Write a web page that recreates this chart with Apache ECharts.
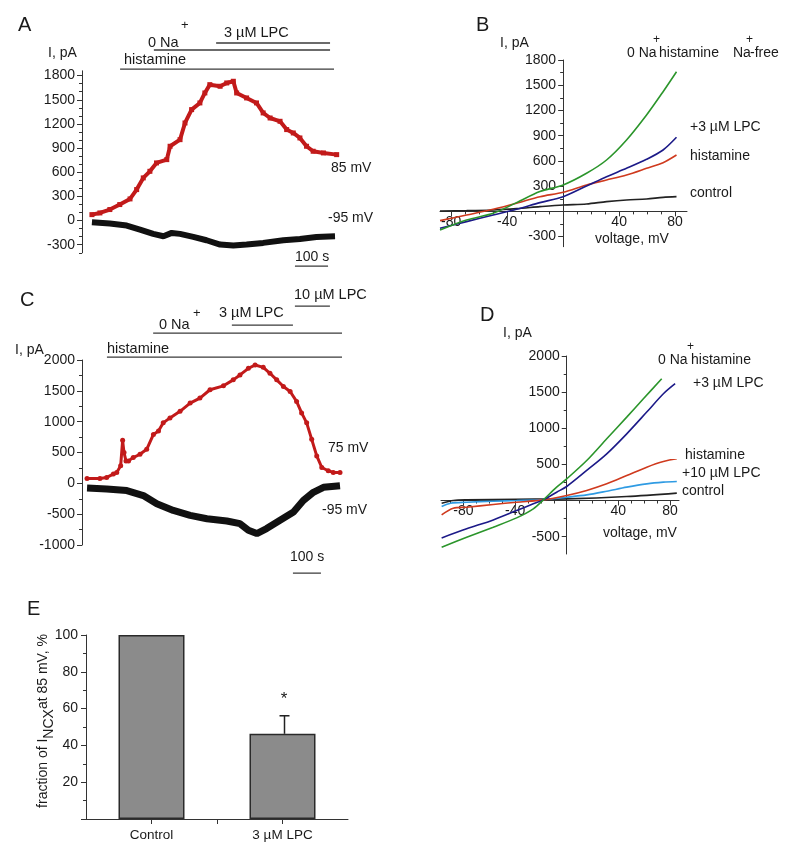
<!DOCTYPE html>
<html><head><meta charset="utf-8">
<script src="https://cdn.jsdelivr.net/npm/echarts@6/dist/echarts.min.js"></script>
<style>html,body{margin:0;padding:0;background:#fff}#c{width:800px;height:857px}</style>
</head><body><div id="c"></div><script>
// ---------- Panel A: time course (s, pA) ----------
const aTime85 = [0,24,54,84,115,135,155,175,195,226,236,266,281,301,326,341,356,387,407,427,437,467,497,517,538,568,588,608,628,648,668,699,739];
const aI85    = [74,95,137,199,269,385,530,612,716,757,923,1005,1212,1378,1461,1585,1688,1668,1709,1730,1585,1523,1461,1337,1274,1233,1130,1088,1026,923,861,840,819];
const aTimeN95 = [0,54,105,145,185,216,241,266,306,346,387,427,467,517,578,628,678,734];
const aIN95    = [-21,-37,-62,-112,-165,-194,-153,-165,-203,-244,-298,-310,-298,-277,-244,-228,-203,-194];
const aHistamine = [85, 731];
const aNaFree    = [187, 719];
const aLPC3      = [375, 719];
const aScaleBar  = [613, 713];
const aTickLabels = [-300,0,300,600,900,1200,1500,1800];

// ---------- Panel B: I-V curves (mV, pA) ----------
const bV         = [-88,-69,-50,-33.3,-16.6,0,16.7,31,45.3,59.6,71.4,81];
const bNaFree    = [-221,-102,-23,104,235,314,453,611,849,1146,1423,1661];
const bLPC3      = [-201,-122,-43,25,104,175,302,413,512,619,730,881];
const bHistamine = [-110,-43,25,96,175,227,314,373,433,512,579,670];
const bControl   = [5,9,17,33,56,76,88,116,136,147,167,175];
const bYTickLabels = [-300,300,600,900,1200,1500,1800];
const bXTickLabels = [-80,-40,40,80];

// ---------- Panel C: time course (s, pA) ----------
const cTime75 = [0,46,70,94,106,120,127,132,139,148,165,189,213,237,255,272,296,332,368,403,439,487,522,546,576,600,629,653,677,701,725,748,766,784,802,820,838,861,879,903];
const cI75    = [80,80,96,150,177,284,697,498,364,364,418,472,552,793,847,981,1061,1168,1302,1383,1517,1581,1678,1758,1865,1919,1881,1785,1678,1570,1490,1329,1142,981,713,445,257,204,177,177];
const cTimeN95 = [0,70,142,201,249,308,368,428,499,546,576,606,641,689,737,772,808,844,903];
const cIN95    = [-75,-91,-118,-198,-332,-440,-520,-574,-611,-654,-761,-815,-734,-600,-466,-279,-145,-64,-38];
const cHistamine = [71, 946];
const cNaFree    = [236, 981];
const cLPC3      = [517, 735];
const cLPC10     = [742, 867];
const cScaleBar  = [735, 835];

// ---------- Panel D: I-V curves (mV, pA) ----------
const dVNaFree   = [-96.9,-77.5,-56.9,-38.8,-25.9,-18.1,-7.8,0,15.5,31,46.5,59.4,73.6];
const dNaFree    = [-646,-508,-369,-240,-115,9,185,300,554,854,1154,1408,1685];
const dVLPC3     = [-96.9,-77.5,-56.9,-38.8,-25.9,-18.1,-7.8,0,15.5,31,46.5,62,74.9,84];
const dLPC3      = [-517,-392,-268,-139,-46,9,115,194,416,646,923,1224,1477,1616];
const dVHist     = [-96.9,-87.9,-77.5,-56.9,-38.8,-18.1,0,15.5,31,46.5,62,74.9,85.3];
const dHistamine = [-199,-106,-92,-55,-23,9,69,139,231,346,462,540,577];
const dVLPC10    = [-96.9,-90,-77.5,-56.9,-38.8,-18.1,0,15.5,31,46.5,62,74.9,85.3];
const dLPC10     = [-83,-37,-23,-9,0,14,46,78,129,185,231,254,263];
const dVControl  = [-96.9,-87.9,-77.5,-38.8,0,46.5,85.3];
const dControl   = [-37,0,9,18,23,55,102];
const dYTickLabels = [-500,500,1000,1500,2000];
const dXTickLabels = [-80,-40,40,80];

// ---------- Panel E: bar chart ----------
const eCats  = ['Control', '3 µM LPC'];
const eMeans = [100, 46.3];
const eSem   = [0, 9.8];
const eN     = [null, 6];

// ---------- helpers ----------
const FONT = '"Liberation Sans", Arial, Helvetica, sans-serif';
const INK = '#1a1a1a';
const AX = '#333';
const pairs = (xs, ys) => xs.map((x, i) => [x, ys[i]]);
const range = (a, b, s) => { const r = []; for (let v = a; v <= b + 1e-9; v += s) r.push(v); return r; };
const minorsOf = (a, b, s, majorStep) => range(a, b, s).filter(v => Math.abs(v % majorStep) > 1e-9);
const fmt = v => String(v);
const labelStyle = { color: INK, fontFamily: FONT, fontSize: 14, formatter: fmt };

const G = {
  A: { left: 82, top: 70.8, width: 255, height: 182 },
  B: { left: 440, top: 60, width: 247, height: 186.7 },
  C: { left: 82, top: 360, width: 258, height: 185 },
  D: { left: 441, top: 356, width: 238, height: 198 },
  E: { left: 86, top: 635, width: 262, height: 184 }
};
const BX = [-88, 88.5], BY = [-420, 1800], DX = [-97.4, 87], DY = [-740, 2000];
// offsets that place crossing axes at the zero of the other axis
const yOffAtZero = (g, ext) => -((0 - ext[0]) / (ext[1] - ext[0]) * g.width);
const xOffAtZero = (g, ext) => -((0 - ext[0]) / (ext[1] - ext[0]) * g.height);

function mainAxis(extra) {
  return Object.assign({
    type: 'value', splitLine: { show: false },
    axisLine: { show: true, onZero: false, lineStyle: { color: AX, width: 1 } },
    axisTick: { show: true, inside: false, length: 5, lineStyle: { color: AX } },
    axisLabel: Object.assign({ show: true }, labelStyle)
  }, extra);
}
function minorAxis(extra, ticks) {
  return Object.assign({
    type: 'value', splitLine: { show: false },
    axisLine: { show: false, onZero: false },
    axisTick: { show: true, length: 3, customValues: ticks, lineStyle: { color: AX } },
    axisLabel: { show: false }
  }, extra);
}
function bar(xIdx, yIdx, period, level) {
  return { type: 'line', xAxisIndex: xIdx, yAxisIndex: yIdx, clip: false, silent: true, symbol: 'none',
    data: [[period[0], level], [period[1], level]], lineStyle: { color: '#3a3a3a', width: 1.3 }, z: 1 };
}
function trace(xIdx, yIdx, xs, ys, color, width, sym, symSize) {
  return { type: 'line', xAxisIndex: xIdx, yAxisIndex: yIdx, data: pairs(xs, ys), clip: false,
    symbol: sym || 'none', symbolSize: symSize || 0, showSymbol: !!sym, showAllSymbol: true,
    itemStyle: { color }, lineStyle: { color, width }, silent: true, z: 3 };
}
function iv(xIdx, yIdx, xs, ys, color) {
  return { type: 'line', xAxisIndex: xIdx, yAxisIndex: yIdx, data: pairs(xs, ys), smooth: 0.3,
    symbol: 'none', lineStyle: { color, width: 1.6 }, silent: true, z: 3 };
}
const txt = (x, y, s, o) => ({ type: 'text', x, y, silent: true,
  style: Object.assign({ text: s, fill: INK, fontFamily: FONT, fontSize: 14, align: 'left', verticalAlign: 'middle' }, o || {}) });

const RED = '#c21a1a', GREEN = '#2b952b', NAVY = '#1c1a88', RED2 = '#cf3a1e', LBLUE = '#2f9be3';
const bYOff = yOffAtZero(G.B, BX), bXOff = xOffAtZero(G.B, BY);
const dYOff = yOffAtZero(G.D, DX), dXOff = xOffAtZero(G.D, DY);

const option = {
  animation: false,
  backgroundColor: '#fff',
  grid: [G.A, G.B, G.C, G.D, G.E],
  xAxis: [
    { type: 'value', gridIndex: 0, min: -30, max: 740, show: false },
    mainAxis({ gridIndex: 1, min: BX[0], max: BX[1], position: 'bottom', offset: bXOff,
      axisTick: { show: true, length: 5, customValues: [-80,-40,0,40,80], lineStyle: { color: AX } },
      axisLabel: Object.assign({ customValues: bXTickLabels, margin: 4 }, labelStyle) }),
    minorAxis({ gridIndex: 1, min: BX[0], max: BX[1], position: 'bottom', offset: bXOff }, minorsOf(-80, 80, 10, 40)),
    { type: 'value', gridIndex: 2, min: -18, max: 903, show: false },
    mainAxis({ gridIndex: 3, min: DX[0], max: DX[1], position: 'bottom', offset: dXOff,
      axisTick: { show: true, length: 5, customValues: [-80,-40,0,40,80], lineStyle: { color: AX } },
      axisLabel: Object.assign({ customValues: dXTickLabels, margin: 4 }, labelStyle) }),
    minorAxis({ gridIndex: 3, min: DX[0], max: DX[1], position: 'bottom', offset: dXOff }, minorsOf(-90, 80, 10, 40)),
    mainAxis({ gridIndex: 4, min: 0, max: 4, position: 'bottom',
      axisTick: { show: true, length: 5, customValues: [1,2,3], lineStyle: { color: AX } },
      axisLabel: Object.assign({}, labelStyle, { customValues: [1,3], margin: 9, fontSize: 13.5, formatter: v => eCats[Math.round((v - 1) / 2)] }) })
  ],
  yAxis: [
    mainAxis({ gridIndex: 0, min: -400, max: 1860, position: 'left',
      axisTick: { show: true, length: 5, customValues: aTickLabels, lineStyle: { color: AX } },
      axisLabel: Object.assign({ customValues: aTickLabels, margin: 7 }, labelStyle) }),
    minorAxis({ gridIndex: 0, min: -400, max: 1860, position: 'left' }, minorsOf(-400, 1800, 100, 300)),
    mainAxis({ gridIndex: 1, min: BY[0], max: BY[1], position: 'left', offset: bYOff,
      axisTick: { show: true, length: 5, customValues: [-300,0,300,600,900,1200,1500,1800], lineStyle: { color: AX } },
      axisLabel: Object.assign({ customValues: bYTickLabels, margin: 7 }, labelStyle) }),
    minorAxis({ gridIndex: 1, min: BY[0], max: BY[1], position: 'left', offset: bYOff }, minorsOf(-150, 1650, 150, 300)),
    mainAxis({ gridIndex: 2, min: -1000, max: 2000, interval: 500, position: 'left',
      minorTick: { show: true, splitNumber: 2, length: 3, lineStyle: { color: AX } },
      axisLabel: Object.assign({ margin: 7 }, labelStyle) }),
    mainAxis({ gridIndex: 3, min: DY[0], max: DY[1], position: 'left', offset: dYOff,
      axisTick: { show: true, length: 5, customValues: [-500,0,500,1000,1500,2000], lineStyle: { color: AX } },
      axisLabel: Object.assign({ customValues: dYTickLabels, margin: 7 }, labelStyle) }),
    minorAxis({ gridIndex: 3, min: DY[0], max: DY[1], position: 'left', offset: dYOff }, minorsOf(-750, 1750, 250, 500).filter(v => v > DY[0])),
    mainAxis({ gridIndex: 4, min: 0, max: 100, interval: 20, position: 'left',
      minorTick: { show: true, splitNumber: 2, length: 3, lineStyle: { color: AX } },
      axisLabel: Object.assign({}, labelStyle, { margin: 8, formatter: v => v === 0 ? '' : String(v) }) })
  ],
  series: [
    // A
    bar(0, 0, aHistamine, 1882), bar(0, 0, aNaFree, 2118), bar(0, 0, aLPC3, 2205), bar(0, 0, aScaleBar, -565),
    trace(0, 0, aTime85, aI85, RED, 4, 'rect', 5),
    trace(0, 0, aTimeN95, aIN95, '#111', 6),
    // B
    iv(1, 2, bV, bControl, '#222'),
    iv(1, 2, bV, bHistamine, RED2),
    iv(1, 2, bV, bLPC3, NAVY),
    iv(1, 2, bV, bNaFree, GREEN),
    // C
    bar(3, 4, cHistamine, 2048), bar(3, 4, cNaFree, 2437), bar(3, 4, cLPC3, 2567), bar(3, 4, cLPC10, 2875), bar(3, 4, cScaleBar, -1455),
    trace(3, 4, cTime75, cI75, RED, 3, 'circle', 5),
    trace(3, 4, cTimeN95, cIN95, '#111', 7),
    // D
    iv(4, 5, dVControl, dControl, '#222'),
    iv(4, 5, dVLPC10, dLPC10, LBLUE),
    iv(4, 5, dVHist, dHistamine, RED2),
    iv(4, 5, dVLPC3, dLPC3, NAVY),
    iv(4, 5, dVNaFree, dNaFree, GREEN),
    // E
    { type: 'bar', xAxisIndex: 6, yAxisIndex: 7, barWidth: 66, silent: true,
      data: eMeans.map((m, i) => [2 * i + 1, m]),
      itemStyle: { color: '#8b8b8b', borderColor: '#2a2a2a', borderWidth: 1.5 }, z: 2 },
    { type: 'custom', xAxisIndex: 6, yAxisIndex: 7, silent: true, z: 4,
      encode: { x: 0, y: [1, 2] },
      data: eMeans.map((m, i) => [2 * i + 1, m, m + eSem[i]]).filter((d, i) => eSem[i] > 0),
      renderItem: (params, api) => {
        const x = api.value(0);
        const lo = api.coord([x, api.value(1)]);
        const hi = api.coord([x, api.value(2)]);
        const s = { stroke: '#222', lineWidth: 1.5 };
        return { type: 'group', children: [
          { type: 'line', shape: { x1: lo[0] + 2, y1: lo[1], x2: hi[0] + 2, y2: hi[1] }, style: s },
          { type: 'line', shape: { x1: hi[0] - 3, y1: hi[1], x2: hi[0] + 7, y2: hi[1] }, style: s }
        ] };
      } }
  ],
  graphic: [
    // A
    txt(18, 25, 'A', { fontSize: 20 }),
    txt(48, 53, 'I, pA'),
    txt(148, 43, '0 Na', { fontSize: 14.5 }),
    txt(181, 25, '+', { fontSize: 13 }),
    txt(224, 33, '3 µM LPC', { fontSize: 14.5 }),
    txt(124, 60, 'histamine', { fontSize: 14.5 }),
    txt(331, 168, '85 mV'),
    txt(328, 218, '-95 mV'),
    txt(295, 257, '100 s'),
    // B
    txt(476, 25, 'B', { fontSize: 20 }),
    txt(500, 43, 'I, pA'),
    txt(627, 53, '0 Na'), txt(653, 40, '+', { fontSize: 12 }), txt(659, 53, 'histamine'),
    txt(733, 53, 'Na'), txt(746, 40, '+', { fontSize: 12 }), txt(750, 53, '-free'),
    txt(690, 127, '+3 µM LPC'),
    txt(690, 156, 'histamine'),
    txt(690, 193, 'control'),
    txt(595, 239, 'voltage, mV'),
    // C
    txt(20, 300, 'C', { fontSize: 20 }),
    txt(15, 350, 'I, pA'),
    txt(107, 349, 'histamine', { fontSize: 14.5 }),
    txt(159, 325, '0 Na', { fontSize: 14.5 }),
    txt(193, 313, '+', { fontSize: 13 }),
    txt(219, 313, '3 µM LPC', { fontSize: 14.5 }),
    txt(294, 295, '10 µM LPC', { fontSize: 14.5 }),
    txt(328, 448, '75 mV'),
    txt(322, 510, '-95 mV'),
    txt(290, 557, '100 s'),
    // D
    txt(480, 315, 'D', { fontSize: 20 }),
    txt(503, 333, 'I, pA'),
    txt(658, 360, '0 Na'), txt(687, 347, '+', { fontSize: 12 }), txt(691, 360, 'histamine'),
    txt(693, 383, '+3 µM LPC'),
    txt(685, 455, 'histamine'),
    txt(682, 473, '+10 µM LPC'),
    txt(682, 491, 'control'),
    txt(603, 533, 'voltage, mV'),
    // E
    txt(27, 609, 'E', { fontSize: 20 }),
    { type: 'text', x: 46, y: 721, rotation: Math.PI / 2, silent: true,
      style: { text: '{n|fraction of I}{s|NCX}{n|at 85 mV, %}', fill: INK, align: 'center', verticalAlign: 'middle',
        rich: {
          n: { fontFamily: FONT, fontSize: 14, verticalAlign: 'top', fill: INK },
          s: { fontFamily: FONT, fontSize: 14, verticalAlign: 'top', padding: [6, 0, 0, 0], fill: INK }
        } } },
    txt(284, 699, '*', { fontSize: 17, align: 'center' }),
    txt(282, 754, '(' + eN[1] + ')', { align: 'center' })
  ]
};

const chart = echarts.init(document.getElementById('c'), null, { renderer: 'canvas' });
chart.setOption(option);
</script></body></html>
